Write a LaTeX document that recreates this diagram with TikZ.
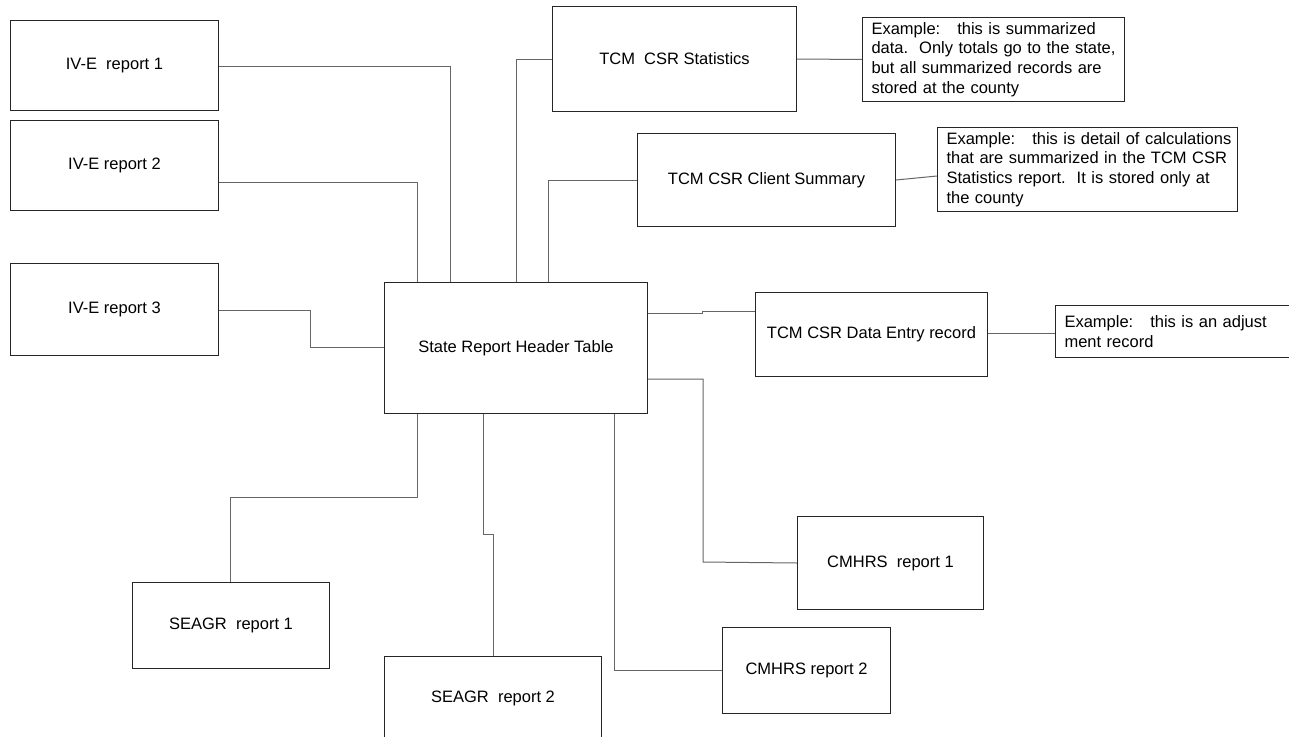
\documentclass[tikz,border=0pt]{standalone}
\usepackage{fontspec}
\setmainfont{Liberation Sans}
\begin{document}
\begin{tikzpicture}[x=1pt,y=-1pt,
  every node/.style={font=\fontsize{16.5}{19.7}\selectfont},
  block/.style={draw=black!85, line width=1pt, anchor=north west, inner sep=0pt, align=center},
  memo/.style={draw=black!85, line width=1pt, anchor=north west, inner xsep=9pt, inner ysep=0pt, align=left},
  link/.style={draw=black!60, line width=1pt}]
\clip (0,0) rectangle (1289,736);
\fill[white] (0,0) rectangle (1289,736);

% report boxes
\node[block, minimum width=208pt, minimum height=90pt] (iv1) at (10,20) {IV-E\ \ report 1};
\node[block, minimum width=208pt, minimum height=90pt] (iv2) at (10,120) {IV-E report 2};
\node[block, minimum width=208pt, minimum height=92pt] (iv3) at (10,263) {IV-E report 3};
\node[block, minimum width=263pt, minimum height=131pt] (state) at (384,282) {State Report Header Table};
\node[block, minimum width=244pt, minimum height=105pt] (stats) at (552,6) {TCM\ \ CSR Statistics};
\node[block, minimum width=258pt, minimum height=93pt] (client) at (637,133) {TCM CSR Client Summary};
\node[block, minimum width=232pt, minimum height=84pt] (entry) at (755,292) {TCM CSR Data Entry record};
\node[block, minimum width=186pt, minimum height=93pt] (cm1) at (797,516) {CMHRS\ \ report 1};
\node[block, minimum width=168pt, minimum height=86pt] (cm2) at (722,627) {CMHRS report 2};
\node[block, minimum width=197pt, minimum height=86pt] (sg1) at (132,582) {SEAGR\ \ report 1};
\node[block, minimum width=217pt, minimum height=84pt] (sg2) at (384,656) {SEAGR\ \ report 2};

% explanatory notes (one \mbox per printed line)
\node[memo, text width=244pt, minimum height=84pt] (n1) at (862,17)
  {\mbox{Example:\hspace{17pt}this is summarized}\\
   \mbox{data.\ \ Only totals go to the state,}\\
   \mbox{but all summarized records are}\\
   \mbox{stored at the county}};
\node[memo, text width=282pt, minimum height=84pt] (n2) at (937,127)
  {\mbox{Example:\hspace{17pt}this is detail of calculations}\\
   \mbox{that are summarized in the TCM CSR}\\
   \mbox{Statistics report.\ \ It is stored only at}\\
   \mbox{the county}};
\node[memo, text width=260pt, minimum height=52pt] (n3) at (1055,305)
  {\mbox{Example:\hspace{17pt}this is an adjust}\\
   \mbox{ment record}};

% connectors into the header table
\draw[link] (iv1.east |- 0,66) -| (state.north -| 450,0);
\draw[link] (iv2.east |- 0,182) -| (state.north -| 417,0);
\draw[link] (iv3.east |- 0,310) -- (310,310) |- (state.west |- 0,347);
\draw[link] (stats.west) -| (state.north -| 516,0);
\draw[link] (client.west) -| (state.north -| 548,0);
\draw[link] (state.east |- 0,313) -- (702,313) -- (702,311) -- (entry.west |- 0,311);
\draw[link] (state.east |- 0,379) -| (703,562) -- (cm1.west);
\draw[link] (state.south -| 614,0) |- (cm2.west);
\draw[link] (state.south -| 417,0) |- (230,497) -- (sg1.north -| 230,0);
\draw[link] (state.south -| 483,0) -- (483,534) -- (493,534) -- (sg2.north -| 493,0);

% connectors to the notes
\draw[link] (stats.east) -- (n1.west);
\draw[link] (client.east) -- (n2.west |- 0,176);
\draw[link] (entry.east |- 0,333) -- (n3.west |- 0,333);
\end{tikzpicture}
\end{document}
